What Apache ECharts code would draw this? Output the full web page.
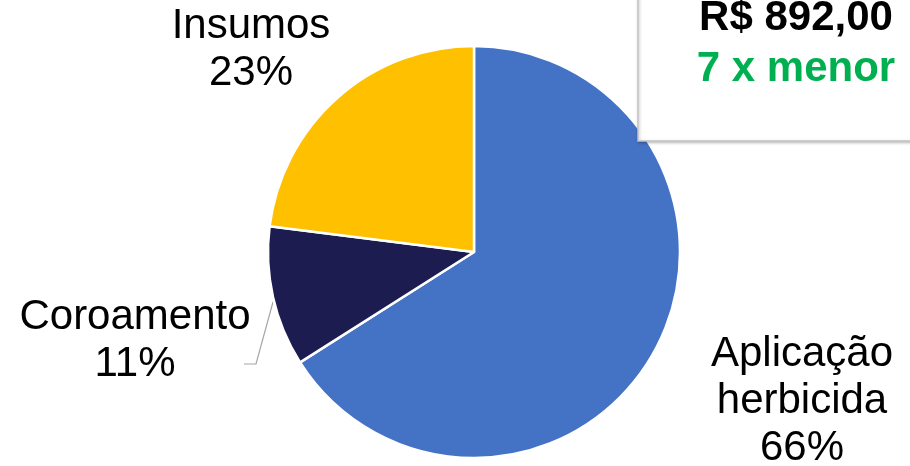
<!DOCTYPE html>
<html>
<head>
<meta charset="utf-8">
<script src="https://cdn.jsdelivr.net/npm/echarts@6/dist/echarts.min.js"></script>
<style>
html,body{margin:0;padding:0;background:#fff;}
#c{width:910px;height:466px;}
</style>
</head>
<body>
<div id="c"></div>
<script>
const categories = ['Aplicação herbicida', 'Coroamento', 'Insumos'];
const values = [66, 11, 23];
const colors = ['#4472C4', '#1C1C50', '#FFC000'];
const boxLine1 = 'R$ 892,00';
const boxLine2 = '7 x menor';

const FONT = '"Liberation Sans", Arial, Helvetica, sans-serif';
const labelPos = [
  {x: 802, y: 401},
  {x: 135, y: 341},
  {x: 251, y: 50}
];

const chart = echarts.init(document.getElementById('c'), null, {renderer: 'canvas'});
chart.setOption({
  animation: false,
  backgroundColor: '#fff',
  series: [{
    type: 'pie',
    center: [474, 252],
    radius: 206,
    startAngle: 90,
    clockwise: true,
    z: 1,
    itemStyle: {borderColor: '#fff', borderWidth: 2.5},
    label: {
      show: true,
      position: 'outside',
      color: '#000',
      fontFamily: FONT,
      fontSize: 42,
      lineHeight: 47,
      align: 'center',
      overflow: 'none',
      formatter: p => p.name.replace(' ', '\n') + '\n' + p.percent.toFixed(0) + '%'
    },
    labelLine: {show: true, lineStyle: {color: '#A6A6A6', width: 1.2}},
    labelLayout: function (params) {
      const i = params.dataIndex;
      const r = {x: labelPos[i].x, y: labelPos[i].y, align: 'center', verticalAlign: 'middle', width: 400};
      if (i === 1) {
        r.labelLinePoints = [[273, 302], [256, 364], [244, 364]];
      }
      return r;
    },
    emphasis: {disabled: true},
    data: categories.map((n, i) => ({
      name: n,
      value: values[i],
      itemStyle: {color: colors[i]},
      labelLine: {show: i === 1}
    }))
  }],
  graphic: [
    {
      type: 'rect',
      z: 100,
      shape: {x: 638, y: -20, width: 320, height: 161},
      style: {
        fill: '#fff', stroke: '#C4C4C4', lineWidth: 1.5,
        shadowBlur: 3, shadowColor: 'rgba(0,0,0,0.25)', shadowOffsetX: 1, shadowOffsetY: 1
      }
    },
    {
      type: 'text',
      z: 101,
      x: 796, y: 39,
      style: {
        text: boxLine1, fill: '#000', font: 'bold 42px ' + FONT,
        textAlign: 'center', textVerticalAlign: 'bottom'
      }
    },
    {
      type: 'text',
      z: 101,
      x: 796, y: 90,
      style: {
        text: boxLine2, fill: '#00B050', font: 'bold 42px ' + FONT,
        textAlign: 'center', textVerticalAlign: 'bottom'
      }
    }
  ]
});
</script>
</body>
</html>
